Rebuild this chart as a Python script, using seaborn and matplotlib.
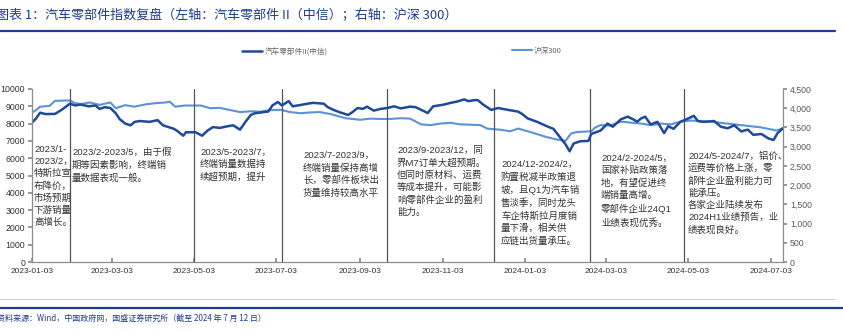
import matplotlib
matplotlib.use("Agg")
import matplotlib.pyplot as plt
import matplotlib.dates as mdates
from matplotlib import font_manager
from matplotlib.ticker import FuncFormatter, MultipleLocator
import seaborn as sns
import pandas as pd

sns.set_theme(style="white")
CJK = ["Noto Sans CJK SC", "DejaVu Sans"]
NUM = ["Liberation Sans", "Noto Sans CJK SC"]
_names = {f.name for f in font_manager.fontManager.ttflist}
NARROW = "Liberation Sans Narrow" if "Liberation Sans Narrow" in _names else "Liberation Sans"
NOTE_FAM = [NARROW, "Noto Sans CJK SC", "DejaVu Sans"]
plt.rcParams["font.family"] = CJK
plt.rcParams["axes.unicode_minus"] = False

# ---------------- data ----------------
auto_dates = [
    "2023-01-03", "2023-01-06", "2023-01-09", "2023-01-13", "2023-01-20", "2023-01-25", "2023-01-31",
    "2023-02-04", "2023-02-08", "2023-02-14", "2023-02-19", "2023-02-22", "2023-02-26", "2023-03-02",
    "2023-03-06", "2023-03-09", "2023-03-13", "2023-03-17", "2023-03-20", "2023-03-24", "2023-03-31",
    "2023-04-06", "2023-04-10", "2023-04-14", "2023-04-18", "2023-04-21", "2023-04-25", "2023-04-27",
    "2023-05-04", "2023-05-09", "2023-05-13", "2023-05-17", "2023-05-22", "2023-05-28", "2023-06-01",
    "2023-06-06", "2023-06-10", "2023-06-14", "2023-06-17", "2023-06-22", "2023-06-27", "2023-06-30",
    "2023-07-04", "2023-07-07", "2023-07-12", "2023-07-15", "2023-07-21", "2023-07-26", "2023-07-30",
    "2023-08-07", "2023-08-10", "2023-08-14", "2023-08-19", "2023-08-25", "2023-08-28", "2023-09-01",
    "2023-09-05", "2023-09-08", "2023-09-13", "2023-09-18", "2023-09-23", "2023-09-28", "2023-10-03",
    "2023-10-10", "2023-10-14", "2023-10-18", "2023-10-23", "2023-10-27", "2023-11-04", "2023-11-09",
    "2023-11-14", "2023-11-19", "2023-11-22", "2023-11-26", "2023-11-29", "2023-12-03", "2023-12-09",
    "2023-12-14", "2023-12-21", "2023-12-29", "2024-01-01", "2024-01-05", "2024-01-12", "2024-01-20",
    "2024-01-24", "2024-01-29", "2024-02-02", "2024-02-05", "2024-02-08", "2024-02-13", "2024-02-19",
    "2024-02-21", "2024-02-28", "2024-03-04", "2024-03-08", "2024-03-14", "2024-03-19", "2024-03-23",
    "2024-03-26", "2024-03-29", "2024-04-01", "2024-04-05", "2024-04-10", "2024-04-15", "2024-04-18",
    "2024-04-22", "2024-04-27", "2024-05-03", "2024-05-07", "2024-05-10", "2024-05-14", "2024-05-22",
    "2024-05-27", "2024-06-01", "2024-06-06", "2024-06-11", "2024-06-16", "2024-06-20", "2024-06-26",
    "2024-07-01", "2024-07-05", "2024-07-08", "2024-07-12",
]
auto_values = [
    8050, 8300, 8630, 8550, 8560, 8800, 9150,
    9050, 9100, 9000, 9050, 8850, 8950, 8900,
    8600, 8250, 8000, 7900, 8100, 8150, 8100,
    8200, 7900, 7800, 7700, 7550, 7300, 7500,
    7500, 7300, 7600, 7800, 7750, 7850, 7900,
    7650, 8100, 8500, 8600, 8650, 8700, 9050,
    9250, 9050, 9300, 9000, 9080, 9150, 9200,
    9150, 8950, 8800, 8650, 8500, 8650, 8900,
    8850, 8980, 8750, 8850, 8900, 9000, 8880,
    8980, 8950, 8800, 8610, 9000, 9100, 9200,
    9280, 9400, 9300, 9350, 9360, 9100, 8790,
    8900, 8800, 8690, 8550, 8300, 8100, 7820,
    7700, 7200, 6800, 6400, 6850, 6980, 7000,
    7400, 7600, 8000, 7820, 8250, 8400, 8250,
    8110, 8300, 8400, 7950, 8100, 7450, 7850,
    7700, 8100, 8300, 8450, 8150, 8100, 8150,
    7820, 7730, 7900, 7550, 7650, 7350, 7400,
    7150, 7050, 7450, 7730,
]

hs300_dates = [
    "2023-01-03", "2023-01-06", "2023-01-09", "2023-01-16", "2023-01-20", "2023-01-27", "2023-01-31",
    "2023-02-04", "2023-02-08", "2023-02-15", "2023-02-22", "2023-03-02", "2023-03-06", "2023-03-13",
    "2023-03-20", "2023-03-28", "2023-04-04", "2023-04-12", "2023-04-15", "2023-04-19", "2023-04-26",
    "2023-05-08", "2023-05-15", "2023-05-22", "2023-05-30", "2023-06-06", "2023-06-14", "2023-06-21",
    "2023-06-28", "2023-07-06", "2023-07-13", "2023-07-21", "2023-07-28", "2023-08-04", "2023-08-12",
    "2023-08-23", "2023-09-03", "2023-09-11", "2023-09-18", "2023-09-25", "2023-10-03", "2023-10-10",
    "2023-10-18", "2023-10-25", "2023-11-01", "2023-11-09", "2023-11-16", "2023-11-24", "2023-12-01",
    "2023-12-06", "2023-12-16", "2023-12-23", "2023-12-29", "2024-01-07", "2024-01-18", "2024-01-26",
    "2024-02-02", "2024-02-06", "2024-02-10", "2024-02-21", "2024-02-24", "2024-02-28", "2024-03-06",
    "2024-03-14", "2024-03-29", "2024-04-05", "2024-04-13", "2024-04-20", "2024-04-27", "2024-05-05",
    "2024-05-12", "2024-05-20", "2024-05-27", "2024-06-11", "2024-06-26", "2024-07-03", "2024-07-07",
    "2024-07-12",
]
hs300_values = [
    3890, 3950, 4040, 4060, 4190, 4200, 4200,
    4130, 4110, 4150, 4085, 4150, 4000, 4080,
    4040, 4100, 4130, 4150, 4170, 4040, 4070,
    4070, 4000, 4010, 3950, 3900, 3920, 3910,
    3950, 3960, 3900, 3870, 3890, 3900, 3850,
    3740, 3700, 3730, 3720, 3720, 3740, 3730,
    3580, 3560, 3600, 3620, 3580, 3570, 3560,
    3470, 3440, 3400, 3470, 3380, 3260, 3190,
    3150, 3340, 3380, 3400, 3500, 3560, 3550,
    3650, 3600, 3560, 3600, 3580, 3650, 3680,
    3660, 3650, 3620, 3560, 3500, 3450, 3420,
    3480,
]

series_names = ["汽车零部件II(中信)", "沪深300"]

event_dates = ["2023-01-31", "2023-05-03", "2023-07-07", "2023-09-23",
               "2023-12-11", "2024-02-20", "2024-04-30"]

tick_dates = ["2023-01-03", "2023-03-03", "2023-05-03", "2023-07-03", "2023-09-03",
              "2023-11-03", "2024-01-03", "2024-03-03", "2024-05-03", "2024-07-03"]

notes = [
    "2023/1-\n2023/2，\n特斯拉宣\n布降价，\n市场预期\n下游销量\n高增长。",
    "2023/2-2023/5，由于假\n期等因素影响，终端销\n量数据表现一般。",
    "2023/5-2023/7，\n终端销量数据持\n续超预期，提升",
    "2023/7-2023/9，\n终端销量保持高增\n长，零部件板块出\n货量维持较高水平",
    "2023/9-2023/12，同\n界M7订单大超预期。\n但同时原材料、运费\n等成本提升，可能影\n响零部件企业的盈利\n能力。",
    "2024/12-2024/2，\n购置税减半政策退\n坡，且Q1为汽车销\n售淡季，同时龙头\n车企特斯拉月度销\n量下滑，相关供\n应链出货量承压。",
    "2024/2-2024/5，\n国家补贴政策落\n地，有望促进终\n端销量高增。\n零部件企业24Q1\n业绩表现优秀。",
    "2024/5-2024/7，铝价、\n运费等价格上涨，零\n部件企业盈利能力可\n能承压。\n各家企业陆续发布\n2024H1业绩预告，业\n绩表现良好。",
]

title = "图表 1：汽车零部件指数复盘（左轴：汽车零部件 II（中信）；右轴：沪深 300）"
source = "资料来源：Wind，中国政府网，国盛证券研究所（截至 2024 年 7 月 12 日）"

# ---------------- layout ----------------
W, H = 843, 330
note_pos = [(34, 145), (72, 148), (200, 148), (303, 151), (397, 146), (501, 160), (601, 154), (688, 151)]
NOTE_SIZE = 7.2 if NARROW == "Liberation Sans Narrow" else 6.8

df_auto = pd.DataFrame({"date": pd.to_datetime(auto_dates), "value": auto_values})
df_hs = pd.DataFrame({"date": pd.to_datetime(hs300_dates), "value": hs300_values})

DARK = "#1D4A9B"
LIGHT = "#5B93D8"
GRID = "#8c8c8c"
TXT = "#333333"
BLUE = "#1F3C8E"

fig = plt.figure(figsize=(W / 100, H / 100), dpi=100)
ax = fig.add_axes([32 / W, 1 - 262 / H, (783 - 32) / W, (262 - 89) / H])
ax2 = ax.twinx()

sns.lineplot(data=df_auto, x="date", y="value", ax=ax, color=DARK, lw=1.8, label=series_names[0], legend=False)
sns.lineplot(data=df_hs, x="date", y="value", ax=ax2, color=LIGHT, lw=1.5, label=series_names[1], legend=False)

ax.set_xlim(pd.Timestamp("2023-01-03"), pd.Timestamp("2024-07-12"))
ax.set_ylim(0, 10000)
ax2.set_ylim(0, 4500)
ax.set_xlabel("")
ax.set_ylabel("")
ax2.set_ylabel("")

for d in event_dates:
    ax.axvline(pd.Timestamp(d), color="#555555", lw=0.9, zorder=1)

ax.set_xticks(pd.to_datetime(tick_dates))
ax.xaxis.set_major_formatter(mdates.DateFormatter("%Y-%m-%d"))
ax.yaxis.set_major_locator(MultipleLocator(1000))
ax2.yaxis.set_major_locator(MultipleLocator(500))
ax2.yaxis.set_major_formatter(FuncFormatter(lambda v, p: f"{int(v):,}"))

for a in (ax, ax2):
    for s in a.spines.values():
        s.set_visible(False)
ax.spines["left"].set_visible(True)
ax.spines["bottom"].set_visible(True)
ax2.spines["right"].set_visible(True)
for s in (ax.spines["left"], ax.spines["bottom"], ax2.spines["right"]):
    s.set_color(GRID)
    s.set_linewidth(0.9)

ax.tick_params(axis="x", direction="in", length=3, color=GRID, labelsize=6, labelcolor=TXT, pad=4, bottom=True)
ax.tick_params(axis="y", direction="out", length=3, color=GRID, labelsize=6.3, labelcolor=TXT, pad=2, left=True)
ax2.tick_params(axis="y", direction="out", length=3, color=GRID, labelsize=6.3, labelcolor="#595959", pad=2, right=True)
for lab in ax.get_xticklabels() + ax.get_yticklabels() + ax2.get_yticklabels():
    lab.set_family(NUM)
ax.grid(False)
ax2.grid(False)
ax2.set_zorder(ax.get_zorder() - 1)
ax.patch.set_visible(False)

# legends
h1, l1 = ax.get_legend_handles_labels()
h2, l2 = ax2.get_legend_handles_labels()
fig.legend(h1, l1, loc="center", bbox_to_anchor=(285 / W, 1 - 52 / H), frameon=False,
           fontsize=5.5, handlelength=2.6, handletextpad=0.3, labelcolor="#666666")
fig.legend(h2, l2, loc="center", bbox_to_anchor=(537 / W, 1 - 51 / H), frameon=False,
           fontsize=5.5, handlelength=2.6, handletextpad=0.3, labelcolor="#666666")

# notes
for txt, (px, py) in zip(notes, note_pos):
    fig.text(px / W, 1 - py / H, txt, ha="left", va="top", fontsize=NOTE_SIZE, color=TXT,
             linespacing=1.42, family=NOTE_FAM)

# title / source / rules
fig.text(-4 / W, 1 - 16 / H, title, ha="left", va="center", fontsize=9.4, color=BLUE, family=CJK)
fig.add_artist(plt.Line2D([0, 835 / W], [1 - 31 / H, 1 - 31 / H], color=BLUE, lw=1.6))
fig.add_artist(plt.Line2D([0, 835 / W], [1 - 299 / H, 1 - 299 / H], color="#d0d0d0", lw=0.8))
fig.add_artist(plt.Line2D([0, 1], [1 - 308 / H, 1 - 308 / H], color=BLUE, lw=1.6))
fig.text(-3 / W, 1 - 318 / H, source, ha="left", va="center", fontsize=5.8, color=BLUE, family=CJK)

fig.savefig("out.png", dpi=100)
